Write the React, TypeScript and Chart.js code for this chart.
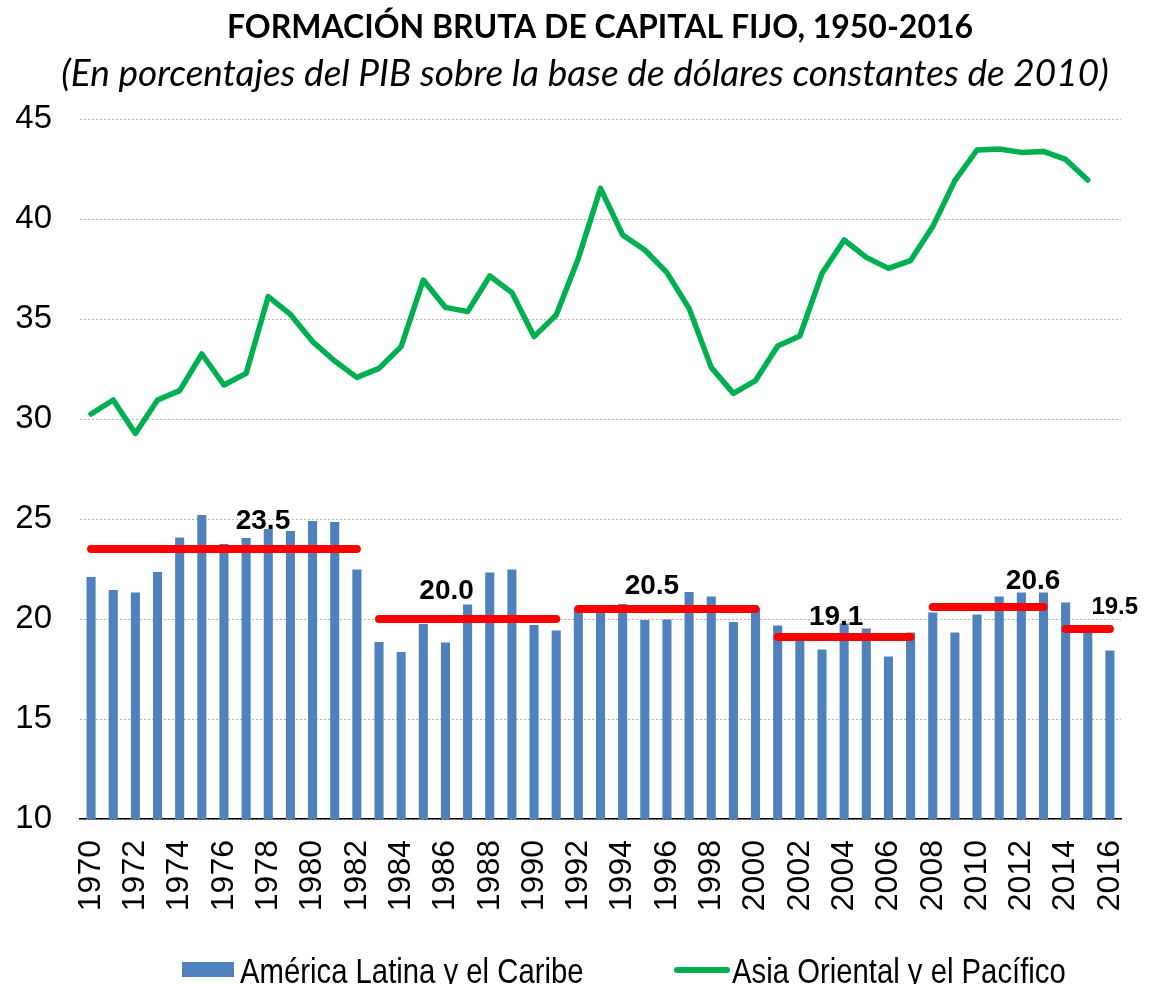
import React, { useEffect, useRef } from "react";
import { Chart, registerables } from "chart.js";

Chart.register(...registerables);

// ---------- DATA ----------
const years = [
  "1970", "1971", "1972", "1973", "1974", "1975", "1976", "1977", "1978", "1979",
  "1980", "1981", "1982", "1983", "1984", "1985", "1986", "1987", "1988", "1989",
  "1990", "1991", "1992", "1993", "1994", "1995", "1996", "1997", "1998", "1999",
  "2000", "2001", "2002", "2003", "2004", "2005", "2006", "2007", "2008", "2009",
  "2010", "2011", "2012", "2013", "2014", "2015", "2016",
];

const latinAmerica = [
  22.1, 21.45, 21.33, 22.35, 24.07, 25.2, 23.75, 24.05, 24.5, 24.4,
  24.9, 24.85, 22.47, 18.85, 18.35, 19.75, 18.83, 20.72, 22.33, 22.48,
  19.7, 19.42, 20.55, 20.4, 20.75, 19.95, 19.98, 21.35, 21.12, 19.85,
  20.55, 19.67, 19.15, 18.48, 19.78, 19.53, 18.12, 19.32, 20.32, 19.32,
  20.22, 21.12, 21.32, 21.32, 20.82, 19.6, 18.42,
];

const eastAsia = [
  30.25, 30.95, 29.28, 30.95, 31.42, 33.25, 31.7, 32.28, 36.12, 35.23,
  33.87, 32.9, 32.08, 32.53, 33.62, 36.95, 35.58, 35.37, 37.15, 36.32,
  34.12, 35.2, 38.03, 41.53, 39.2, 38.45, 37.32, 35.53, 32.58, 31.28,
  31.92, 33.65, 34.15, 37.28, 38.95, 38.08, 37.53, 37.92, 39.62, 41.92,
  43.45, 43.5, 43.33, 43.38, 42.98, 41.95, null,
];

const periodAverages = [23.5, 20.0, 20.5, 19.1, 20.6, 19.5];
const periodStart = ["1970", "1983", "1992", "2001", "2008", "2014"];
const periodEnd = ["1982", "1991", "2000", "2007", "2013", "2016"];

const yTicks = [10, 15, 20, 25, 30, 35, 40, 45];

const titleText = "FORMACIÓN BRUTA DE CAPITAL FIJO, 1950-2016";
const subtitleText = "(En porcentajes del PIB sobre la base de dólares constantes de 2010)";
const seriesNames = ["América Latina y el Caribe", "Asia Oriental y el Pacífico"];

// ---------- STYLE ----------
const BLUE = "#4F81BD";
const GREEN = "#00B050";
const RED = "#FF0000";
const labelOffsets = [
  { dx: 39, dy: -28, size: 28 },
  { dx: -21, dy: -28, size: 28 },
  { dx: -15, dy: -23, size: 28 },
  { dx: -8, dy: -20, size: 28 },
  { dx: 45, dy: -26, size: 28 },
  { dx: 27, dy: -22, size: 24 },
];

const avgPlugin = {
  id: "avgLabels",
  afterDatasetsDraw(chart: any) {
    const { ctx, scales } = chart;
    const xs = scales.x;
    const ys = scales.y;
    ctx.save();
    ctx.fillStyle = "#000";
    ctx.textAlign = "center";
    ctx.textBaseline = "middle";
    periodAverages.forEach((v, i) => {
      const a = xs.getPixelForValue(years.indexOf(periodStart[i]));
      const b = xs.getPixelForValue(years.indexOf(periodEnd[i]));
      const o = labelOffsets[i];
      ctx.font = `bold ${o.size}px 'Liberation Sans', Arial, sans-serif`;
      ctx.fillText(v.toFixed(1), (a + b) / 2 + o.dx, ys.getPixelForValue(v) + o.dy);
    });
    ctx.restore();
  },
  afterDraw(chart: any) {
    const { ctx } = chart;
    ctx.save();
    // titles
    ctx.fillStyle = "#000";
    ctx.textAlign = "center";
    ctx.textBaseline = "middle";
    ctx.font = "bold 32px Lato, 'Open Sans', sans-serif";
    ctx.fillText(titleText, 600, 28);
    ctx.font = "italic 37px Lato, 'Open Sans', sans-serif";
    ctx.fillText(subtitleText, 585, 74);

    // legend
    const squeeze = 0.837;
    ctx.font = "35px 'Liberation Sans', Arial, sans-serif";
    ctx.textAlign = "left";
    ctx.textBaseline = "alphabetic";
    ctx.fillStyle = BLUE;
    ctx.fillRect(182, 962, 52, 15);
    ctx.strokeStyle = GREEN;
    ctx.lineWidth = 6;
    ctx.lineCap = "round";
    ctx.beginPath();
    ctx.moveTo(677, 970);
    ctx.lineTo(727, 970);
    ctx.stroke();
    ctx.fillStyle = "#000";
    ctx.save();
    ctx.translate(240, 983);
    ctx.scale(squeeze, 1);
    ctx.fillText(seriesNames[0], 0, 0);
    ctx.restore();
    ctx.save();
    ctx.translate(732, 983);
    ctx.scale(squeeze, 1);
    ctx.fillText(seriesNames[1], 0, 0);
    ctx.restore();
    ctx.restore();
  },
};

export default function App() {
  const ref = useRef<HTMLCanvasElement | null>(null);

  useEffect(() => {
    if (!ref.current) return;
    const avgDatasets = periodAverages.map((v, i) => {
      const s = years.indexOf(periodStart[i]);
      const e = years.indexOf(periodEnd[i]);
      return {
        type: "line" as const,
        label: `avg${i}`,
        data: years.map((_, k) => (k >= s && k <= e ? v : null)),
        borderColor: RED,
        borderWidth: 8,
        borderCapStyle: "round" as const,
        pointRadius: 0,
        spanGaps: false,
        order: 1,
      };
    });

    const chart = new Chart(ref.current, {
      type: "bar",
      data: {
        labels: years,
        datasets: [
          {
            type: "bar",
            label: seriesNames[0],
            data: latinAmerica,
            backgroundColor: BLUE,
            categoryPercentage: 1,
            barPercentage: 0.41,
            order: 3,
          },
          {
            type: "line",
            label: seriesNames[1],
            data: eastAsia,
            borderColor: GREEN,
            borderWidth: 5.5,
            borderJoinStyle: "round",
            borderCapStyle: "round",
            pointRadius: 0,
            tension: 0,
            order: 2,
          },
          ...avgDatasets,
        ] as any,
      },
      options: {
        responsive: false,
        animation: false,
        devicePixelRatio: 1,
        layout: { padding: { left: 0, right: 28, top: 119, bottom: 0 } },
        plugins: {
          legend: { display: false },
          tooltip: { enabled: false },
          title: { display: false },
          subtitle: { display: false },
        },
        scales: {
          x: {
            grid: { display: false, drawTicks: false },
            border: { display: true, color: "#000", width: 1.5 },
            ticks: {
              autoSkip: false,
              minRotation: 90,
              maxRotation: 90,
              padding: 21,
              color: "#000",
              font: { family: "'Liberation Sans', Arial, sans-serif", size: 32 },
              callback: (_v: any, i: number) => (i % 2 === 0 ? years[i] : ""),
            },
            afterFit: (s: any) => {
              s.height = 165;
              s.paddingLeft = 0;
              s.paddingRight = 0;
            },
          },
          y: {
            min: 10,
            max: 45,
            afterBuildTicks: (s: any) => {
              s.ticks = yTicks.map((v) => ({ value: v }));
            },
            grid: { color: "#B5B5B5", lineWidth: 1, drawTicks: false },
            border: { display: false, dash: [2, 2] },
            ticks: {
              padding: 28,
              color: "#000",
              font: { family: "'Liberation Sans', Arial, sans-serif", size: 33 },
            },
            afterFit: (s: any) => {
              s.width = 80;
              s.paddingTop = 0;
            },
          },
        },
      },
      plugins: [avgPlugin],
    });
    return () => chart.destroy();
  }, []);

  return (
    <div style={{ position: "absolute", left: 0, top: 0, width: 1149, height: 984 }}>
      <canvas ref={ref} width={1149} height={984} style={{ width: 1149, height: 984 }} />
    </div>
  );
}
